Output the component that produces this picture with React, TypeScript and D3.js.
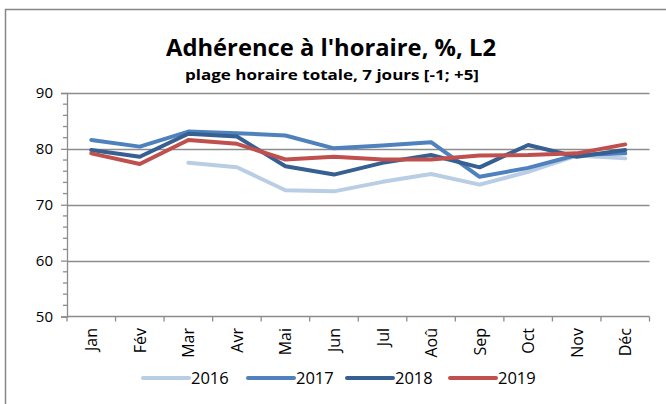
import React, { useEffect, useRef } from 'react'
import * as d3 from 'd3'

const months = ['Jan', 'Fév', 'Mar', 'Avr', 'Mai', 'Jun', 'Jul', 'Aoû', 'Sep', 'Oct', 'Nov', 'Déc']
const years = ['2016', '2017', '2018', '2019']

const y2016 = [null, null, 77.5, 76.7, 72.6, 72.4, 74.1, 75.5, 73.6, 75.9, 78.8, 78.3]
const y2017 = [81.6, 80.4, 83.1, 82.8, 82.4, 80.1, 80.6, 81.2, 75.0, 76.6, 78.9, 79.2]
const y2018 = [79.8, 78.6, 82.7, 82.2, 76.9, 75.4, 77.5, 78.9, 76.7, 80.7, 78.6, 79.8]
const y2019 = [79.2, 77.3, 81.6, 80.9, 78.1, 78.6, 78.1, 78.1, 78.8, 78.9, 79.2, 80.8]

const yTicks = [50, 60, 70, 80, 90]
const colors = ['#b9cde5', '#4f81bd', '#376092', '#c0504d']

const App = () => {
  const svgRef = useRef(null)

  useEffect(() => {
    draw()
  }, [])

  const draw = () => {
    const svg = d3.select(svgRef.current)
    svg.selectAll('*').remove()
    const font = '"Open Sans", sans-serif'

    const left = 67
    const right = 649.5
    const top = 93
    const bottom = 316.5

    // chart frame
    svg.append('rect')
      .attr('x', 5.5).attr('y', 9.5)
      .attr('width', 700).attr('height', 420)
      .attr('fill', '#fff')
      .attr('stroke', '#868686')
      .attr('stroke-width', 1.5)

    svg.append('text')
      .attr('x', 331).attr('y', 56)
      .attr('text-anchor', 'middle')
      .attr('font-family', font)
      .attr('font-weight', 'bold')
      .attr('font-size', 23)
      .attr('textLength', 330)
      .attr('lengthAdjust', 'spacingAndGlyphs')
      .text("Adhérence à l'horaire, %, L2")

    svg.append('text')
      .attr('x', 332).attr('y', 80)
      .attr('text-anchor', 'middle')
      .attr('font-family', font)
      .attr('font-weight', 'bold')
      .attr('font-size', 14)
      .attr('textLength', 294)
      .attr('lengthAdjust', 'spacingAndGlyphs')
      .text('plage horaire totale, 7 jours [-1; +5]')

    const x = d3.scaleBand().domain(months).range([left, right])
    const y = d3.scaleLinear().domain([50, 90]).range([bottom, top])

    // grid lines
    svg.append('g')
      .selectAll('line')
      .data(yTicks.slice(1))
      .enter().append('line')
      .attr('x1', left).attr('x2', right)
      .attr('y1', d => Math.round(y(d)) + 0.5)
      .attr('y2', d => Math.round(y(d)) + 0.5)
      .attr('stroke', '#8c8c8c')
      .attr('stroke-width', 1.3)

    // y axis
    const yAxis = svg.append('g')
      .attr('transform', `translate(${left},0)`)
      .call(d3.axisLeft(y).tickValues(yTicks).tickSize(6).tickPadding(5))
    yAxis.selectAll('text')
      .attr('font-family', font)
      .attr('font-size', 15)
      .attr('fill', '#000')
      .attr('dx', -3)
    yAxis.select('.domain').attr('stroke', '#8c8c8c').attr('stroke-width', 1.3)
    yAxis.selectAll('line').attr('stroke', '#8c8c8c').attr('stroke-width', 1.3)

    svg.append('g')
      .selectAll('line')
      .data(d3.range(50, 90, 2).filter(v => v % 10 !== 0))
      .enter().append('line')
      .attr('x1', left - 4).attr('x2', left)
      .attr('y1', d => y(d)).attr('y2', d => y(d))
      .attr('stroke', '#8c8c8c')
      .attr('stroke-width', 1.3)

    // x axis
    svg.append('line')
      .attr('x1', left).attr('x2', right)
      .attr('y1', bottom).attr('y2', bottom)
      .attr('stroke', '#8c8c8c').attr('stroke-width', 1.3)

    svg.append('g')
      .selectAll('line')
      .data(months.concat(['end']))
      .enter().append('line')
      .attr('x1', (d, i) => left + i * x.step())
      .attr('x2', (d, i) => left + i * x.step())
      .attr('y1', bottom).attr('y2', bottom + 5)
      .attr('stroke', '#8c8c8c').attr('stroke-width', 1.3)

    svg.append('g')
      .selectAll('text')
      .data(months)
      .enter().append('text')
      .attr('transform', d => `translate(${x(d) + x.bandwidth() / 2 + 6},${bottom + 11.5}) rotate(-90)`)
      .attr('text-anchor', 'end')
      .attr('font-family', font)
      .attr('font-size', 16)
      .text(d => d)

    // series
    const series = [y2016, y2017, y2018, y2019]
    const line = d3.line()
      .defined(d => d[1] != null)
      .x(d => x(d[0]) + x.bandwidth() / 2)
      .y(d => y(d[1]))

    svg.append('g')
      .selectAll('path')
      .data(series)
      .enter().append('path')
      .attr('d', s => line(months.map((m, i) => [m, s[i]])))
      .attr('fill', 'none')
      .attr('stroke', (d, i) => colors[i])
      .attr('stroke-width', 4)
      .attr('stroke-linejoin', 'round')
      .attr('stroke-linecap', 'round')

    // legend
    const legendX = [143, 248, 347, 450]
    const legend = svg.append('g')
      .selectAll('g')
      .data(years)
      .enter().append('g')
      .attr('transform', (d, i) => `translate(${legendX[i]},378)`)

    legend.append('line')
      .attr('x1', 0).attr('x2', 46)
      .attr('stroke', (d, i) => colors[i])
      .attr('stroke-width', 4)
      .attr('stroke-linecap', 'round')

    legend.append('text')
      .attr('x', 48)
      .attr('y', 6)
      .attr('font-family', font)
      .attr('font-size', 16.5)
      .text(d => d)
  }

  return (
    <div style={{ position: 'absolute', left: 0, top: 0 }}>
      <svg ref={svgRef} width={666} height={404} style={{ display: 'block' }}></svg>
    </div>
  )
}

export default App
